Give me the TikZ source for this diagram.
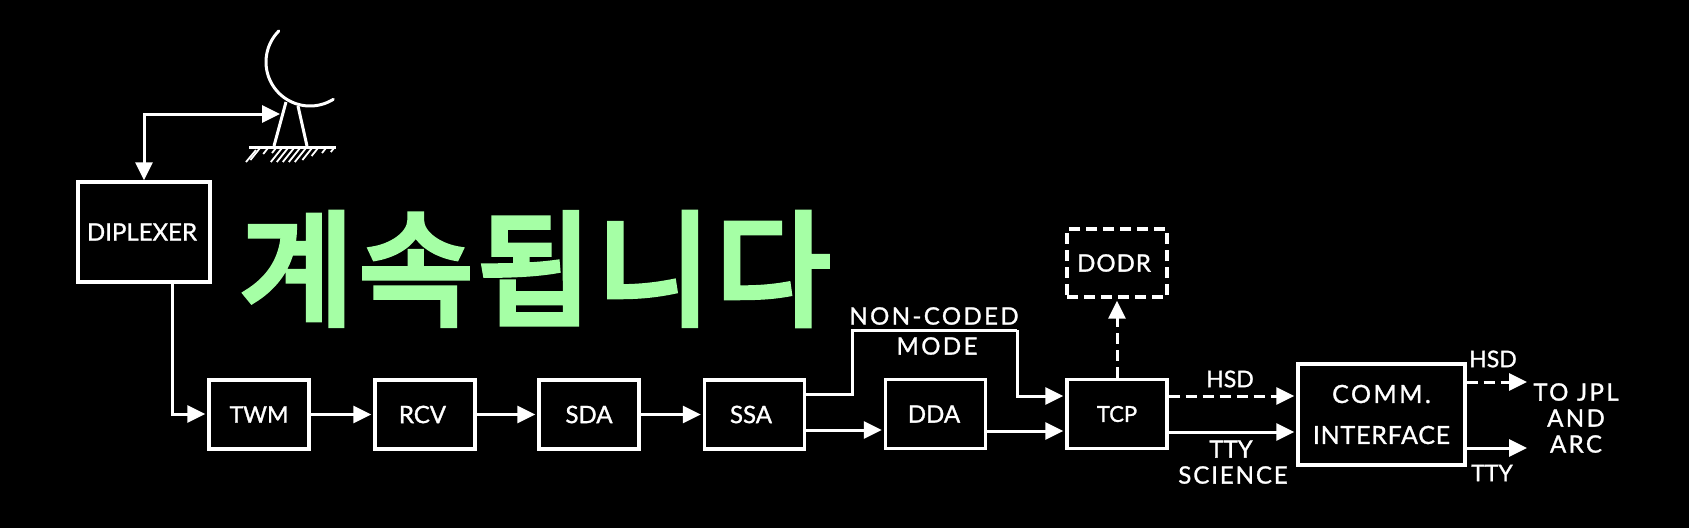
\documentclass[tikz,border=0pt]{standalone}
\usepackage{fontspec}
\setmainfont[FakeBold=1.2]{Lato}
\newfontfamily\cjk[FakeBold=5,LetterSpace=4]{Noto Sans CJK KR}
\usetikzlibrary{arrows.meta}
\newcommand{\sized}[2]{\fontsize{#1}{#2}\selectfont}
\newcommand{\spaced}[1]{\addfontfeature{LetterSpace=#1}}
\tikzset{
  wire/.style={draw=white,line width=3pt},
  flow/.style={wire,-{Triangle[length=18pt,width=17pt]},shorten >=2pt},
  dflow/.style={flow,dash pattern=on 11pt off 6pt},
  blockbox/.style={draw=white,line width=3.4pt,fill=black,text=white,font=\sized{24}{26},inner sep=0pt,minimum height=69pt,minimum width=100pt},
  lab/.style={text=white,font=\sized{24}{26},inner sep=0pt,align=center}
}
\begin{document}
\begin{tikzpicture}[x=1pt,y=-1pt]
\fill[black] (0,0) rectangle (1689,528);
\useasboundingbox (0,0) rectangle (1689,528);
% blocks
\node[blockbox,minimum width=132pt,minimum height=100pt] (dip) at (144,232) {\hspace*{-4pt}\raisebox{-1pt}{DIPLEXER}};
\node[blockbox,font=\sized{23}{26}] (twm) at (259,414.5) {\raisebox{-1pt}{TWM}};
\node[blockbox] (rcv) at (425,414.5) {\hspace*{-5pt}RCV};
\node[blockbox] (sda) at (589,414.5) {SDA};
\node[blockbox] (ssa) at (754.5,414.5) {\hspace*{-7pt}SSA};
\node[blockbox] (dda) at (935.5,414) {\hspace*{-3pt}DDA};
\node[blockbox,font=\sized{22}{26}] (tcp) at (1117,414) {TCP};
\node[blockbox,dash pattern=on 11pt off 6pt,minimum height=68pt,font=\sized{24}{26}\spaced{4}] (dodr) at (1117,263) {\hspace*{-6pt}DODR};
\node[blockbox,minimum width=167pt,minimum height=101pt,align=center,font=\sized{25}{41}\spaced{3}] (comm) at (1381.5,414.5) {{\spaced{10}COMM.}\\INTERFACE};
% antenna
\coordinate (feed) at (280,114);
\coordinate (corner) at (144,114);
\draw[wire,line cap=round] plot[smooth,domain=225:58,samples=40] ({310+44*cos(\x)},{62+44*sin(\x)});
\draw[wire] (286,102) -- (274,146) (298,106) -- (307,146);
\draw[wire] (249,147) -- (336,147);
\foreach \x/\l in {260/12,268/6,276/5,282/14,288/14,294/14,300/14,306/14,312/12,318/8,326/5,334/4}
  \draw[white,line width=1.8pt] (\x,148) -- (\x-\l*0.8,148+\l);
\draw[white,line width=1.8pt] (256,150) -- (246,162);
% connectors
\draw[flow,{Triangle[length=18pt,width=17pt]}-{Triangle[length=18pt,width=17pt]},shorten >=0pt,shorten <=0pt] (dip.north) -- (corner) -- (feed);
\draw[flow] (dip.south -| 172,0) |- (twm.west |- 0,414);
\draw[flow] (twm.east) -- (rcv.west);
\draw[flow] (rcv.east) -- (sda.west);
\draw[flow] (sda.east) -- (ssa.west);
\coordinate (upper) at (852,330);
\coordinate (drop) at (1017,330);
\draw[wire] (ssa.east |- 0,394) -| (upper) -- (drop);
\draw[flow] (drop) |- (tcp.west |- 0,396);
\draw[flow] (ssa.east |- 0,430) -- (dda.west |- 0,430);
\draw[flow] (dda.east |- 0,431) -- (tcp.west |- 0,431);
\draw[dflow] (tcp.north) -- (dodr.south);
\draw[dflow] (tcp.east |- 0,396) -- (comm.west |- 0,396);
\draw[flow] (tcp.east |- 0,432) -- (comm.west |- 0,432);
\coordinate (outa) at (1529,382);
\coordinate (outb) at (1529,448);
\draw[dflow] (comm.east |- outa) -- (outa);
\draw[flow] (comm.east |- outb) -- (outb);
% labels
\node[lab,font=\sized{24}{26}\spaced{10}] (noncoded) at (934,316) {NON-CODED};
\node[lab,font=\sized{24}{26}\spaced{10}] (mode) at (937,346) {MODE};
\node[lab,font=\sized{23}{26}] (hsdin) at (1230,379) {HSD};
\node[lab] (tty) at (1231,449) {TTY};
\node[lab,font=\sized{24}{26}\spaced{8}] (science) at (1233,475) {SCIENCE};
\node[lab,font=\sized{23}{26}] (hsdout) at (1493,359) {HSD};
\node[lab,font=\sized{23}{26}] (ttyout) at (1492,473) {TTY};
\node[lab,font=\sized{24}{26}\spaced{10}] (dest) at (1576,418) {TO JPL\\AND\\ARC};
% overlay
\node[text={rgb,255:red,165;green,255;blue,165},font=\cjk\sized{124}{124},inner sep=0pt] (cont) at (535,269) {계속됩니다};
\end{tikzpicture}
\end{document}
